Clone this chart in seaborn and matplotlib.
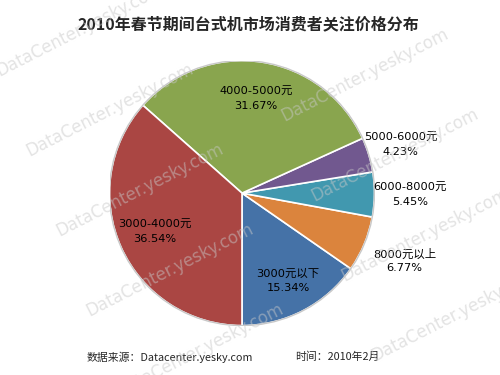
import numpy as np
import matplotlib
matplotlib.use("Agg")
import matplotlib.pyplot as plt
import seaborn as sns

sns.set_theme(style="white")
plt.rcParams['font.family'] = ['Noto Sans CJK SC', 'DejaVu Sans']

# slices, counter-clockwise from the bottom of the pie
categories = ["3000元以下", "8000元以上", "6000-8000元", "5000-6000元", "4000-5000元", "3000-4000元"]
shares = [15.34, 6.77, 5.45, 4.23, 31.67, 36.54]
colors = ["#4572A7", "#DB843D", "#4198AF", "#71588F", "#89A54E", "#AA4643"]
label_dist = [0.75, 1.33, 1.27, 1.25, 0.72, 0.72]

title = "2010年春节期间台式机市场消费者关注价格分布"
source = "数据来源：Datacenter.yesky.com"
date_text = "时间：2010年2月"
watermark = "DataCenter.yesky.com"

fig = plt.figure(figsize=(5, 3.75), dpi=100)
fig.patch.set_facecolor("white")

ax = fig.add_axes([0.219, 0.1317, 0.53, 0.7067])
wedges, _ = ax.pie(shares, colors=colors, startangle=270, counterclock=True,
                   wedgeprops=dict(edgecolor="white", linewidth=1.2))
ax.add_patch(plt.Circle((0, 0), 1.0, fill=False, edgecolor="#c8c8c8", linewidth=1.0))
ax.set_xlim(-1, 1)
ax.set_ylim(-1, 1)
ax.set_aspect("equal")
ax.axis("off")

lab_font = ["DejaVu Sans", "Noto Sans CJK SC"]
for w, cat, val, d in zip(wedges, categories, shares, label_dist):
    mid = np.deg2rad((w.theta1 + w.theta2) / 2)
    ax.text(d * np.cos(mid), d * np.sin(mid), f"{cat}\n{val:.2f}%",
            ha="center", va="center", fontsize=8.2, linespacing=1.5,
            color="black", family=lab_font)

fig.text(0.496, 0.935, title, ha="center", va="center", fontsize=11.5, fontweight="bold")
fig.text(0.174, 0.048, source, ha="left", va="center", fontsize=7.8)
fig.text(0.59, 0.048, date_text, ha="left", va="center", fontsize=7.8)

# tiled watermark drawn over everything
for row in range(-3, 8):
    for col in range(-1, 4):
        px = 80 + col * 225 + row * 30
        py = 30 + row * 80 - col * 115
        if 40 < px < 460 and 10 < py < 370:
            fig.text(px / 500, 1 - py / 375, watermark, rotation=27, fontsize=12,
                     color="#c8c8c8", alpha=0.5, ha="center", va="center",
                     zorder=10, family=["DejaVu Sans"])

fig.savefig("out.png", dpi=100)
